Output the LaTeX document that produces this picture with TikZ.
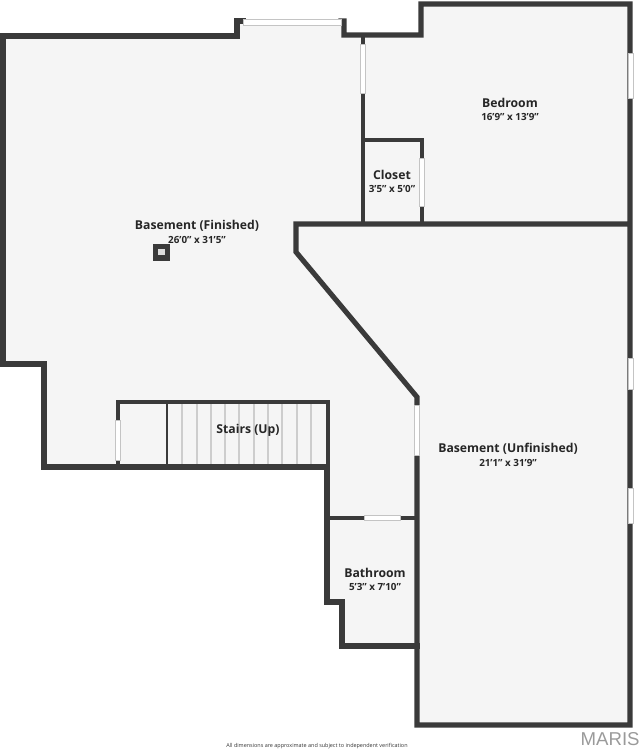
\documentclass[tikz,border=0pt]{standalone}
\usepackage{fontspec}
\setmainfont{Open Sans}
\usepackage{xcolor}
\usetikzlibrary{calc}
\definecolor{wallc}{HTML}{3A3A3A}
\definecolor{floorc}{HTML}{F5F5F5}
\definecolor{sillc}{HTML}{C4C4C4}
\definecolor{treadc}{HTML}{CDCDCD}
\definecolor{markc}{HTML}{9A9A9A}
\tikzset{
  wall/.style={draw=wallc, line width=2.9pt, line cap=rect, line join=miter},
  thinwall/.style={draw=wallc, line width=2.7pt, line cap=butt},
  win/.style={draw=sillc, fill=white, line width=0.5pt},
  tread/.style={draw=treadc, line width=0.7pt},
  room/.style={text=black!85, font=\bfseries\fontsize{6.95}{8}\selectfont},
  size/.style={text=black!85, font=\bfseries\fontsize{5.6}{6}\selectfont},
}
\begin{document}
\begin{tikzpicture}[x=0.02cm,y=-0.02cm]
  \useasboundingbox (0,0) rectangle (640,750);
  % floor
  \fill[floorc] (3,36) -- (237,36) -- (237,22) -- (344,22) -- (344,36) -- (421,36) -- (421,4)
    -- (630,4) -- (630,725) -- (417,725) -- (417,646) -- (342,646) -- (342,602) -- (327,602)
    -- (327,467) -- (44,467) -- (44,364) -- (3,364) -- cycle;
  % stairs
  \foreach \x in {182,197,211,225,239,254,268,282,297,311}
    \draw[tread] (\x,403) -- (\x,467);
  \draw[draw=wallc, line width=0.8pt] (167,403) -- (167,467);
  % outer walls
  \draw[wall] (243,21) -- (237,21) -- (237,36) -- (3,36) -- (3,364) -- (44,364) -- (44,467) -- (327,467)
    -- (327,602) -- (342,602) -- (342,646) -- (417,646);
  \draw[wall] (341,21) -- (344,21) -- (344,35) -- (421,35) -- (421,4) -- (630,4) -- (630,725)
    -- (417,725) -- (417,397) -- (296,252) -- (296,224) -- (630,224);
  % inner walls
  \draw[thinwall] (363,36) -- (363,224);
  \draw[thinwall] (363,140) -- (422,140) -- (422,224);
  \draw[thinwall] (118,467) -- (118,402) -- (328,402) -- (328,467);
  \draw[thinwall] (327,518) -- (417,518);
  % windows
  \draw[win] (243,19.5) rectangle (341,25);
  \draw[win] (360.5,44) rectangle (365.5,93);
  \draw[win] (419.5,158) rectangle (424.5,206);
  \draw[win] (115.5,420) rectangle (120.5,460);
  \draw[win] (414.5,405) rectangle (419.5,455);
  \draw[win] (364,515.5) rectangle (400,520.5);
  \draw[win] (628,53) rectangle (633,98);
  \draw[win] (628,358) rectangle (633,389);
  \draw[win] (628,488) rectangle (633,523);
  % vent
  \fill[wallc] (153,244) rectangle (170,261);
  \fill[floorc!90!black] (158,249) rectangle (165,255);
  % labels
  \node[room] (bedroom) at (510,103) {Bedroom};
  \node[size] (bedroomsize) at (510,117) {16'9" x 13'9"};
  \node[room] (closet) at (392,175) {Closet};
  \node[size] (closetsize) at (392,189) {3'5" x 5'0"};
  \node[room] (finished) at (197,226) {Basement (Finished)};
  \node[size] (finishedsize) at (197,240) {26'0" x 31'5"};
  \node[room] (stairs) at (248,430) {Stairs (Up)};
  \node[room] (unfinished) at (508,449) {Basement (Unfinished)};
  \node[size] (unfinishedsize) at (508,463) {21'1" x 31'9"};
  \node[room] (bathroom) at (375,573) {Bathroom};
  \node[size] (bathroomsize) at (375,587) {5'3" x 7'10"};
  \node[text=black!80, font=\fontsize{3.1}{4}\selectfont] (note) at (317,746) {All dimensions are approximate and subject to independent verification};
  \node[text=markc, font=\fontsize{10.6}{12}\selectfont, inner sep=0pt, anchor=east] (brand) at (640,739) {\fontspec{Liberation Sans}MARIS};
\end{tikzpicture}
\end{document}
